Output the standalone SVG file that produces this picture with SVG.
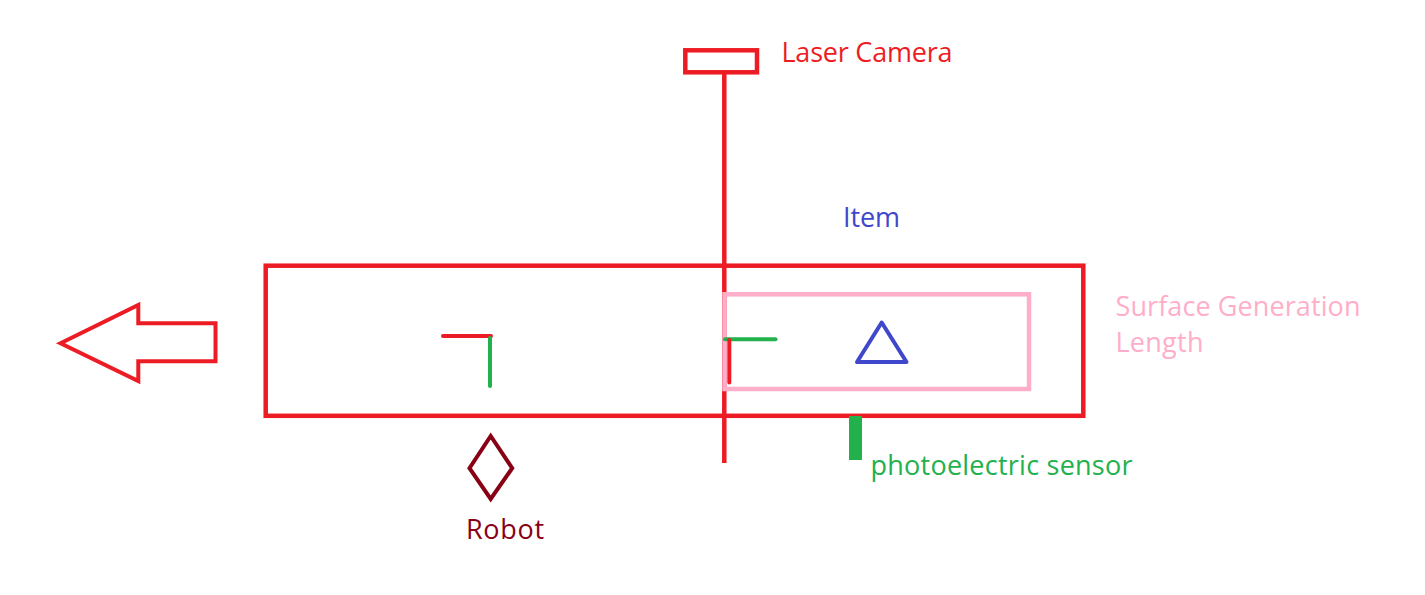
<svg xmlns="http://www.w3.org/2000/svg" width="1425" height="595" viewBox="0 0 1425 595">
<style>
text{font-family:"Open Sans","Noto Sans","Liberation Sans",sans-serif;font-size:27px}
.red{stroke:#ED1C24;fill:none;stroke-width:4.5}
.ln{fill:none;stroke-width:4;stroke-linecap:round}
</style>
<rect width="1425" height="595" fill="#FFFFFF"/>
<g id="connectors">
<line x1="724.3" y1="72" x2="724.3" y2="463" stroke="#ED1C24" stroke-width="4.5"/>
</g>
<g id="laser-camera">
<rect x="685.3" y="50.3" width="71.7" height="22" class="red"/>
<text x="781.5" y="62" fill="#ED1C24" textLength="171">Laser Camera</text>
</g>
<g id="conveyor">
<rect x="265.7" y="265.7" width="817.6" height="150.1" class="red"/>
</g>
<g id="surface-generation-length">
<rect x="724.5" y="294.3" width="304.5" height="94.7" fill="none" stroke="#FFAEC9" stroke-width="4.5"/>
<text x="1115.5" y="316" fill="#FFAEC9" textLength="245">Surface Generation</text>
<text x="1115.5" y="351.5" fill="#FFAEC9" textLength="88">Length</text>
</g>
<g id="camera-frame">
<line x1="725" y1="339.3" x2="775.5" y2="339.3" stroke="#22B14C" class="ln"/>
<line x1="729.3" y1="340" x2="729.3" y2="382.5" stroke="#ED1C24" class="ln"/>
</g>
<g id="item">
<polygon points="881.7,322.5 857,362 906.5,362" fill="none" stroke="#3F48CC" stroke-width="4" stroke-linejoin="round"/>
<text x="843" y="227.3" fill="#3F48CC" textLength="57">Item</text>
</g>
<g id="photoelectric-sensor">
<rect x="849" y="416" width="13" height="44" fill="#22B14C"/>
<text x="870.5" y="474.5" fill="#22B14C" textLength="262">photoelectric sensor</text>
</g>
<g id="robot-frame">
<line x1="443" y1="336" x2="491" y2="336" stroke="#ED1C24" class="ln"/>
<line x1="490" y1="338" x2="490" y2="386" stroke="#22B14C" class="ln"/>
</g>
<g id="robot">
<polygon points="490.7,436 469.5,468.2 490.7,499 512.2,468.2" fill="none" stroke="#880015" stroke-width="4"/>
<text x="466" y="539.3" fill="#880015" textLength="78">Robot</text>
</g>
<g id="direction-arrow">
<polygon points="60.5,343.3 138.3,305 138.3,323.3 215.5,323.3 215.5,361.3 138.3,361.3 138.3,381" fill="none" stroke="#ED1C24" stroke-width="4"/>
</g>
</svg>
